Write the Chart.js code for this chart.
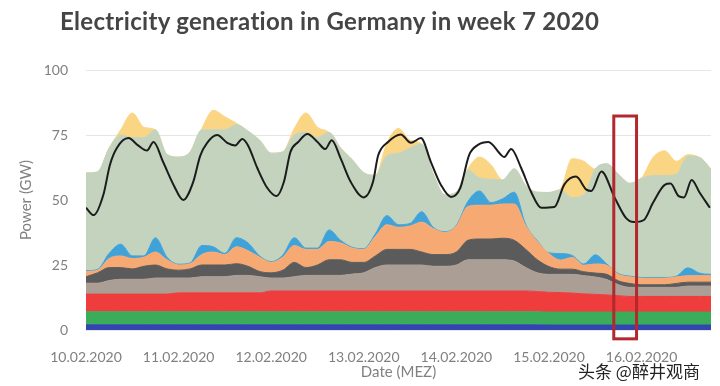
<!DOCTYPE html>
<html>
<head>
<meta charset="utf-8">
<script src="https://cdn.jsdelivr.net/npm/chart.js@4.4.1/dist/chart.umd.min.js"></script>
<style>
  html, body { margin: 0; padding: 0; background: #fff; }
  #wrap { position: relative; width: 720px; height: 386px; }
  #title { position: absolute; left: 60px; top: 6px; font: bold 24px Lato, sans-serif; color: #454545;
           letter-spacing: 0.3px; white-space: nowrap; }
  #mark { position: absolute; left: 578px; top: 358px; font: 17px "Noto Sans CJK SC", sans-serif; color: #222;
          text-shadow: 0 0 2px #fff, 0 0 2px #fff; white-space: nowrap; }
  canvas { position: absolute; left: 0; top: 0; }
</style>
</head>
<body>
<div id="wrap">
  <canvas id="genChart" width="720" height="386"></canvas>
  <div id="title">Electricity generation in Germany in week 7 2020</div>
  <div id="mark">头条 @醉井观商</div>
</div>
<script>
// hours since 10.02.2020 00:00, sampled every 3 h
const hours = [
  0, 3, 6, 9, 12, 15, 18, 21, 24, 27, 30,
  33, 36, 39, 42, 45, 48, 51, 54, 57, 60, 63,
  66, 69, 72, 75, 78, 81, 84, 87, 90, 93, 96,
  99, 102, 105, 108, 111, 114, 117, 120, 123, 126,
  129, 132, 135, 138, 141, 144, 147, 150, 153, 156, 159, 162
];
const dayLabels = ['10.02.2020', '11.02.2020', '12.02.2020', '13.02.2020', '14.02.2020', '15.02.2020', '16.02.2020'];

// GW per source
const hydro = [
  2.0, 2.0, 2.0, 2.0, 2.0, 2.0, 2.0, 2.0, 2.0, 2.0, 2.0,
  2.0, 2.0, 2.0, 2.0, 2.0, 2.0, 2.0, 2.0, 2.0, 2.0, 2.0,
  2.0, 2.0, 2.0, 2.0, 2.0, 2.0, 2.0, 2.0, 2.0, 2.0, 2.0,
  2.0, 2.0, 2.0, 2.0, 2.0, 2.0, 2.0, 1.9, 1.9, 1.9,
  1.9, 1.9, 1.9, 1.9, 1.9, 1.9, 1.9, 1.9, 1.9, 1.9, 1.9, 1.9
];
const biomass = [
  5.0, 5.0, 5.0, 5.0, 5.0, 5.0, 5.0, 5.0, 5.0, 5.0, 5.0,
  5.0, 5.0, 5.0, 5.0, 5.0, 5.0, 5.0, 5.0, 5.0, 5.0, 5.0,
  5.0, 5.0, 5.0, 5.0, 5.0, 5.0, 5.0, 5.0, 5.0, 5.0, 5.0,
  5.0, 5.0, 5.0, 5.0, 5.0, 5.0, 5.0, 5.0, 5.0, 5.0,
  5.0, 5.0, 5.0, 5.0, 5.0, 5.0, 5.0, 5.0, 5.0, 5.0, 5.0, 5.0
];
const nuclear = [
  6.8, 6.8, 6.8, 6.8, 6.8, 6.8, 6.8, 6.8, 7.3, 7.3, 7.3,
  7.3, 7.3, 7.3, 7.3, 7.3, 8.0, 8.0, 8.0, 8.0, 8.0, 8.0,
  8.0, 8.0, 8.0, 8.0, 8.0, 8.0, 8.0, 8.0, 8.0, 8.0, 8.0,
  8.0, 8.0, 8.0, 8.0, 8.0, 8.0, 7.8, 7.6, 7.5, 7.3, 7.0,
  6.8, 6.6, 6.3, 6.0, 6.0, 6.0, 6.0, 6.0, 6.0, 6.0, 6.0
];
const lignite = [
  4.2, 4.2, 5.2, 5.7, 5.7, 5.7, 6.2, 6.2, 5.7, 5.7, 6.2,
  6.2, 6.2, 6.7, 6.7, 6.2, 5.0, 5.0, 5.5, 6.0, 6.0, 6.0,
  6.0, 6.5, 7.0, 9.0, 10.0, 10.0, 10.0, 10.0, 9.5, 9.5, 10.0,
  12.0, 12.0, 12.0, 12.0, 11.5, 9.0, 7.2, 6.9, 7.0, 7.2, 7.0,
  6.7, 5.9, 4.2, 3.5, 3.5, 3.5, 3.5, 3.5, 4.0, 4.0, 4.0
];
const hardCoal = [
  2.5, 4.0, 5.0, 4.5, 4.0, 5.0, 5.0, 3.5, 3.0, 3.5, 4.5,
  4.5, 4.5, 4.5, 3.5, 2.0, 2.0, 3.0, 5.5, 3.0, 4.0, 6.0,
  6.0, 4.5, 4.0, 4.5, 6.0, 6.0, 6.0, 5.0, 4.5, 4.5, 5.0,
  7.5, 8.0, 8.0, 8.3, 8.0, 7.0, 5.0, 3.0, 2.0, 2.0, 1.5,
  1.5, 2.0, 1.5, 1.5, 1.0, 1.0, 1.0, 1.5, 1.5, 1.5, 1.5
];
const gas = [
  2.0, 1.0, 3.5, 4.5, 4.0, 3.5, 5.0, 3.5, 2.0, 2.0, 4.0,
  5.0, 4.0, 6.5, 6.0, 5.5, 4.0, 5.0, 6.5, 7.0, 6.0, 7.0,
  6.5, 5.5, 5.0, 7.5, 9.5, 8.5, 9.0, 11.5, 10.0, 8.5, 10.0,
  13.0, 13.0, 13.0, 13.2, 14.0, 9.0, 7.0, 5.0, 3.5, 4.5, 2.5,
  3.5, 3.5, 2.5, 2.5, 2.5, 2.5, 2.5, 2.5, 2.5, 2.5, 2.5
];
const pumpedStorage = [
  0.3, 0.3, 2.0, 4.5, 1.0, 0.5, 5.5, 1.0, 0.3, 0.3, 3.5,
  2.0, 0.5, 3.5, 3.0, 0.5, 0.3, 0.8, 3.0, 0.5, 0.5, 4.5,
  1.0, 0.3, 0.3, 1.0, 3.5, 1.0, 1.0, 4.0, 0.5, 0.3, 0.3,
  2.0, 5.5, 1.0, 2.0, 4.5, 0.5, 0.3, 0.3, 2.5, 0.8, 0.5,
  3.5, 0.5, 0.3, 0.3, 0.3, 0.3, 0.3, 0.3, 3.0, 1.0, 0.5
];
const wind = [
  37.6, 37.5, 40.5, 42.0, 45.5, 45.5, 41.5, 39.5, 41.2, 42.7, 44.5,
  45.0, 47.5, 43.5, 43.0, 44.5, 41.7, 39.7, 39.5, 44.5, 42.5, 37.5,
  35.5, 33.7, 29.2, 22.5, 23.0, 27.5, 29.0, 26.0, 20.5, 14.2, 12.7,
  12.0, 5.0, 9.0, 7.2, 9.0, 15.0, 18.7, 23.2, 24.5, 22.2, 26.5,
  33.0, 38.5, 38.2, 35.7, 38.2, 39.2, 39.2, 39.2, 43.0, 44.5, 40.5
];
const solar = [
  0, 0, 0, 2.0, 9.5, 4.0, 0, 0, 0, 0, 0.5,
  7.5, 5.0, 0.5, 0, 0, 0, 0, 2.5, 7.5, 4.0, 0,
  0, 0, 0, 0, 5.0, 9.5, 3.0, 0, 0, 0, 0,
  0.5, 8.0, 5.5, 0, 0, 0, 0, 0, 0.5, 15.0, 13.0,
  0, 0, 0, 0, 0, 7.0, 9.5, 5.0, 0.5, 0, 0
];

// load line, read at its turning points
const loadHours = [
  0, 2, 4.5, 6.2, 8, 11, 13.5, 15.8, 17.5, 20, 22.7, 25.2, 27.8, 29.6, 31.4, 34, 36.6, 38.7, 40.5,
  42, 44.4, 47, 49.4, 51.3, 53, 55, 57.4, 60, 62, 63.7, 66, 68.6, 72, 74.4, 75.7, 78.3, 81.6,
  84.2, 86.8, 89.4, 92, 94.6, 97, 99.3, 101.6, 104.3, 107.6, 108.4, 110.2, 112.8, 115.4, 118,
  121.4, 124, 127, 129.7, 131, 133.6, 137, 140, 142, 144.6, 147, 150, 151.5, 153.6, 155, 157, 159, 161.7
];
const load = [
  47, 44.2, 52, 63.5, 70, 73.8, 71, 69, 72.3, 64.6, 55.8, 50, 57, 67, 72, 75, 72, 71, 73.5,
  71, 62.3, 54.6, 51.5, 57, 68.5, 72.3, 75.4, 72.3, 69.6, 73, 66, 57, 51, 57, 67, 72.3, 75.2,
  72, 73.8, 64.6, 55.8, 51.2, 54.6, 67.3, 71.2, 72.3, 67.3, 66.5, 69.6, 62.3, 53, 47,
  47.3, 56, 59, 54, 53.5, 61, 51, 43, 41.5, 42.3, 49, 55.8, 56.3, 51.5, 51, 57.7, 53, 47
];

// marked time window (hours) and its GW span
const highlightHours = [136.8, 142.7];
const highlightGW = [-3.4, 82.3];

const toPoints = (xs, ys) => xs.map((h, i) => ({ x: h, y: ys[i] }));

const area = (label, values, color, first) => ({
  label,
  data: toPoints(hours, values),
  backgroundColor: color,
  borderColor: color,
  borderWidth: 1,
  fill: first ? 'origin' : '-1',
  pointRadius: 0,
  cubicInterpolationMode: 'monotone',
  stack: 'gen',
});

const highlightBox = {
  id: 'highlightBox',
  afterDatasetsDraw(chart) {
    const { ctx, scales: { x, y } } = chart;
    const left = x.getPixelForValue(highlightHours[0]);
    const right = x.getPixelForValue(highlightHours[1]);
    const top = y.getPixelForValue(highlightGW[1]);
    const bottom = y.getPixelForValue(highlightGW[0]);
    ctx.save();
    ctx.strokeStyle = '#b3282c';
    ctx.lineWidth = 3;
    ctx.strokeRect(left, top, right - left, bottom - top);
    ctx.restore();
  },
};

new Chart(document.getElementById('genChart'), {
  type: 'line',
  data: {
    datasets: [
      area('Hydro Power', hydro, '#3346b0', true),
      area('Biomass', biomass, '#3aac5a'),
      area('Uranium', nuclear, '#ef3c3c'),
      area('Brown Coal', lignite, '#aa9e95'),
      area('Hard Coal', hardCoal, '#5c5b5b'),
      area('Gas', gas, '#f6a973'),
      area('Pumped Storage', pumpedStorage, '#3fa3da'),
      area('Wind', wind, '#c3d3be'),
      area('Solar', solar, '#fad584'),
      {
        label: 'Load',
        data: toPoints(loadHours, load),
        borderColor: '#1c1c1c',
        borderWidth: 2,
        fill: false,
        pointRadius: 0,
        cubicInterpolationMode: 'monotone',
        stack: 'load',
        order: -1,
      },
    ],
  },
  options: {
    responsive: false,
    animation: false,
    devicePixelRatio: 1,
    layout: { padding: { top: 70, right: 9, left: 0, bottom: 0 } },
    plugins: {
      legend: { display: false },
      tooltip: { enabled: false },
    },
    scales: {
      x: {
        type: 'linear',
        min: 0,
        max: 162,
        afterFit: (scale) => { scale.height = 56; },
        grid: { display: false },
        border: { display: false },
        ticks: {
          stepSize: 24,
          includeBounds: false,
          autoSkip: false,
          maxRotation: 0,
          padding: 11,
          color: '#808080',
          font: { family: 'Lato', size: 14 },
          callback: (v) => dayLabels[v / 24] ?? '',
        },
        title: {
          display: true,
          text: 'Date (MEZ)',
          color: '#808080',
          font: { family: 'Lato', size: 15 },
          padding: { top: 0, bottom: 5 },
        },
      },
      y: {
        stacked: true,
        min: 0,
        max: 100,
        afterFit: (scale) => { scale.width = 86; },
        grid: { color: '#e6e6e6', drawTicks: false },
        border: { display: false },
        ticks: {
          stepSize: 25,
          padding: 18,
          color: '#808080',
          font: { family: 'Lato', size: 14 },
        },
        title: {
          display: true,
          text: 'Power (GW)',
          color: '#808080',
          font: { family: 'Lato', size: 15 },
          padding: { top: 17, bottom: 0 },
        },
      },
    },
  },
  plugins: [highlightBox],
});
</script>
</body>
</html>
